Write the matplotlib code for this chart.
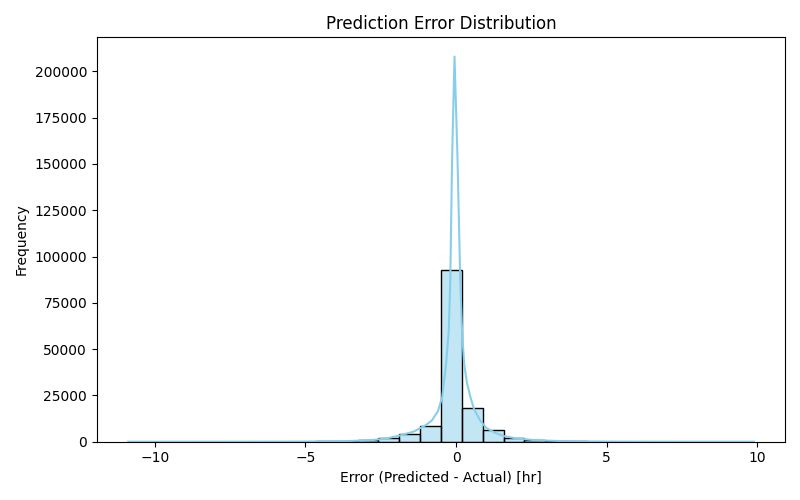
import numpy as np
import matplotlib
matplotlib.use("Agg")
import matplotlib.pyplot as plt
from matplotlib.colors import to_rgba

# Histograma: 30 bins de igual ancho
bin_start = -10.88
bin_width = 0.692
counts = [1, 1, 2, 4, 8, 15, 30, 60, 100, 200,
          400, 800, 1800, 4200, 8700, 92900, 18100, 6150, 2200, 900,
          450, 220, 110, 50, 25, 12, 6, 3, 2, 1]

# Curva KDE (en unidades de conteo)
kde_x = [-10.88, -9.0, -7.0, -5.5, -4.5, -3.8, -3.2, -2.7, -2.3, -1.9,
         -1.4, -1.0, -0.8, -0.6, -0.46, -0.33, -0.24, -0.19, -0.13, -0.05,
         0.05, 0.14, 0.2, 0.27, 0.36, 0.48, 0.6, 0.8, 1.0, 1.3,
         1.6, 2.0, 2.5, 3.0, 3.5, 4.0, 5.0, 6.0, 7.0, 8.0, 9.88]
kde_y = [0, 0, 15, 60, 150, 300, 550, 1000, 1800, 3200,
         5500, 9000, 11500, 16500, 24000, 42000, 60000, 87400, 152600, 208000,
         152600, 87400, 60000, 42000, 32000, 24000, 17500, 11500, 7500, 4800,
         3000, 1800, 1000, 600, 350, 200, 80, 30, 10, 0, 0]

edges = bin_start + bin_width * np.arange(len(counts))

fig, ax = plt.subplots(figsize=(8, 5), dpi=100)
ax.bar(edges, counts, width=bin_width, align='edge',
       facecolor=to_rgba('skyblue', 0.5), edgecolor='black', linewidth=1.0)
ax.plot(kde_x, kde_y, color='skyblue', linewidth=1.5)

ax.set_title('Prediction Error Distribution')
ax.set_xlabel('Error (Predicted - Actual) [hr]')
ax.set_ylabel('Frequency')

plt.tight_layout()
plt.savefig('out.png')
